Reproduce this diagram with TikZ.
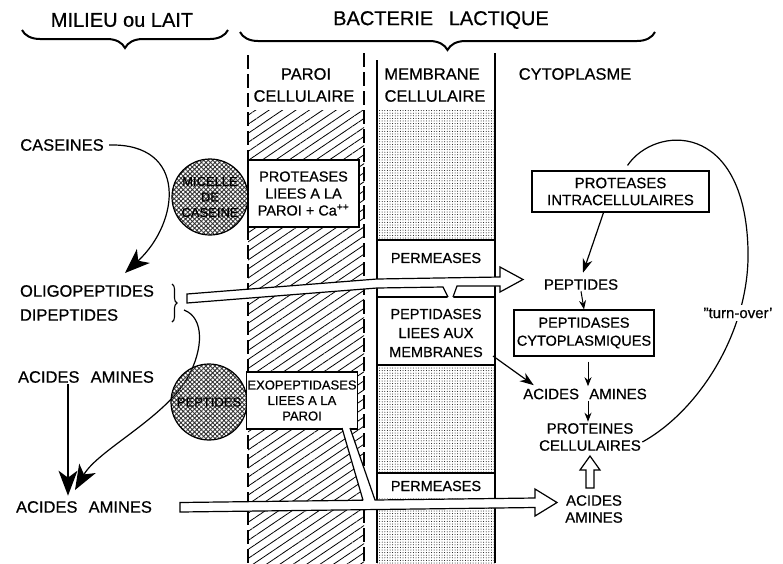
\documentclass[tikz,border=0pt]{standalone}
\usepackage{fontspec}
\setmainfont{Liberation Sans}[UprightFeatures={FakeBold=0.6}]
\usetikzlibrary{patterns,patterns.meta,decorations.pathreplacing,arrows.meta,calc}
\begin{document}
\begin{tikzpicture}[x=1pt,y=-1pt,line width=1pt,
 headtxt/.style={font=\fontsize{20}{22}\selectfont,inner sep=0pt},
 lab/.style={font=\fontsize{16.5}{19}\selectfont,inner sep=1pt},
 coltxt/.style={font=\fontsize{16.5}{19}\selectfont,inner sep=0pt},
 boxtxt/.style={font=\fontsize{14.5}{17}\selectfont,align=center,inner sep=1pt},
 rlab/.style={font=\fontsize{15}{17}\selectfont,align=center,inner sep=1pt},
 circtxt/.style={font=\fontsize{13}{15.5}\selectfont,align=center,inner sep=0pt},
 boxframe/.style={draw,fill=white,line width=1.2pt},
 bigtip/.style={-{Stealth[length=25pt,width=19pt,inset=7pt]},line width=1.2pt},
 smtip/.style={-{Stealth[length=9pt,width=7pt]},line width=1pt},
 medtip/.style={-{Stealth[length=14pt,width=10pt]},line width=1.2pt},
 wallline/.style={dash pattern=on 14pt off 5pt,line width=1.2pt},
 memline/.style={line width=1.4pt},
 blob/.style={circle,draw,line width=1.2pt,minimum size=76pt,inner sep=0pt,
   pattern={Hatch[angle=45,distance=3.2pt,line width=0.9pt]},pattern color=black!80},
 bracestyle/.style={decorate,decoration={brace,amplitude=18pt},line width=2pt},
]
\useasboundingbox (0,0) rectangle (783,563);

% wall hatching and membrane stipple
\fill[pattern={Lines[angle=34,distance=7.5pt,line width=0.8pt]}] (248,110) rectangle (364,563);
\fill[pattern={Dots[distance=2.6pt,radius=0.5pt]}] (377,110) rectangle (495,563);

% white zones in membrane
\fill[white] (377,240) rectangle (495,365);
\fill[white] (377,473) rectangle (495,498);
\draw[memline] (377,240) -- (495,240);
\draw[memline] (377,297) -- (495,297);
\draw[memline] (377,365) -- (495,365);
\draw[memline] (377,473) -- (495,473);

% column borders
\draw[wallline] (248,55) -- (248,563);
\draw[wallline] (364,53) -- (364,563);
\draw[memline] (377,60) -- (377,563);
\draw[memline] (495,53) -- (495,563);

% top braces and headings
\draw[bracestyle] (228,30) -- (22,30);
\draw[bracestyle] (655,32) -- (240,32);
\node[headtxt] (milieu) at (122,20) {MILIEU ou LAIT};
\node[headtxt] (bact) at (441,20) {BACTERIE\hspace{0.5em} LACTIQUE};

% column headers
\node[coltxt] (paroi) at (306,74) {PAROI};
\node[coltxt] (paroicell) at (304,96) {CELLULAIRE};
\node[coltxt] (memb) at (432,74) {MEMBRANE};
\node[coltxt] (membcell) at (435,96) {CELLULAIRE};
\node[coltxt] (cyto) at (575,74) {CYTOPLASME};

% left labels
\node[lab] (caseines) at (62,145) {CASEINES};
\node[lab] (oligo) at (87,291) {OLIGOPEPTIDES};
\node[lab] (dipep) at (69,315) {DIPEPTIDES};
\node[lab] (aaup) at (86,377) {ACIDES\hspace{0.4em} AMINES};
\node[lab] (aalow) at (84,507) {ACIDES\hspace{0.4em} AMINES};
\coordinate (casend) at (125,273);
\coordinate (dipstart) at (184,310);
\coordinate (dipend) at (75,490);
\draw[decorate,decoration={brace,amplitude=5pt},line width=1.1pt] (172,284) -- (172,322);

% left arrows
\draw[bigtip] ([xshift=4pt]caseines.east) .. controls (188,143) and (180,222) .. (casend);
\draw[bigtip] (dipstart) .. controls (205,318) and (203,350) .. (188,377)
   .. controls (165,418) and (98,450) .. (dipend);
\draw[bigtip] ([xshift=-18pt]aaup.south) -- ([xshift=-16pt,yshift=4pt]aalow.north);

% circles
\node[blob,circtxt] (micelle) at (210,197) {MICELLE\\DE\\CASEINE};
\node[blob,circtxt] (pepcirc) at (209,402) {PEPTIDES};

% wall boxes
\node[boxframe,boxtxt,minimum width=111pt,minimum height=67pt] (protwall) at (303.5,193.5)
  {PROTEASES\\LIEES A LA\\PAROI + Ca\textsuperscript{++}};
\node[boxframe,boxtxt,font=\fontsize{13}{15.5}\selectfont,minimum width=110pt,minimum height=57pt] (exo) at (302,400.5)
  {EXOPEPTIDASES\\LIEES A LA\\PAROI};

% membrane labels
\node[boxtxt] (perm1) at (436,258) {PERMEASES};
\node[boxtxt,font=\fontsize{14.5}{19}\selectfont] (pepmem) at (436,333) {PEPTIDASES\\LIEES AUX\\MEMBRANES};
\node[boxtxt] (perm2) at (436,486) {PERMEASES};

% upper transport arrow (oligopeptides)
\fill[white] (187,294) -- (377,279) -- (500,277) -- (500,267) -- (523,279.5) -- (500,292) -- (500,286)
  -- (457,286) -- (453,298.5) -- (448,298.5) -- (443,287) -- (377,288) -- (187,303) -- cycle;
\draw[line width=1.2pt,line join=miter] (448,297) -- (443,287) -- (377,288) -- (187,303) -- (187,294)
  -- (377,279) -- (500,277) -- (500,267) -- (523,279.5) -- (500,292) -- (500,286) -- (457,286) -- (453,297);

% lower transport arrow (amino acids)
\fill[white] (342,427) -- (350,427) -- (375,500) -- (535,498) -- (535,489) -- (557,502.5) -- (535,516)
  -- (535,507.5) -- (180,512) -- (180,502.5) -- (363,500.2) -- cycle;
\draw[line width=1.2pt,line join=miter] (363,500.2) -- (342,428);
\draw[line width=1.2pt,line join=miter] (350,428) -- (375,500) -- (535,498) -- (535,489) -- (557,502.5)
  -- (535,516) -- (535,507.5) -- (180,512) -- (180,502.5) -- (363,500.2);

% cytoplasm
\node[boxframe,rlab,minimum width=177pt,minimum height=41pt] (protintra) at (620.5,191.5)
  {PROTEASES\\INTRACELLULAIRES};
\node[rlab] (peptides) at (581,284.5) {PEPTIDES};
\node[boxframe,rlab,font=\fontsize{14.5}{18}\selectfont,minimum width=140pt,minimum height=46pt] (pepcyto) at (584,333)
  {PEPTIDASES\\CYTOPLASMIQUES};
\node[rlab] (aa1) at (585,394) {ACIDES\hspace{0.4em} AMINES};
\node[rlab] (prot) at (590,437) {PROTEINES\\CELLULAIRES};
\node[rlab] (aa2) at (594,509) {ACIDES\\AMINES};
\coordinate (pmcorner) at (493,356);

\draw[medtip] ([xshift=-17pt]protintra.south) -- ([xshift=2pt,yshift=5pt]peptides.north);
\draw[smtip] (peptides.south) -- (pepcyto.north);
\draw[smtip] ([xshift=4pt,yshift=-5pt]pepcyto.south) -- ([xshift=3pt,yshift=1pt]aa1.north);
\draw[smtip] ([xshift=3pt]aa1.south) -- ([xshift=-2pt]prot.north);
\draw[medtip] (pmcorner) -- ([xshift=12pt,yshift=2pt]aa1.north west);
\draw[line width=1.2pt,fill=white,line join=miter] (586,488) -- (586,470) -- (580,470) -- (590,456)
  -- (600,470) -- (594,470) -- (594,488) -- cycle;

% turn-over loop
\draw[line width=1.2pt] ([yshift=-5pt]prot.east) .. controls (700,410) and (750,330) .. (748,250)
  .. controls (745,120) and (655,125) .. ([xshift=7pt,yshift=5pt]protintra.north);
\node[rlab,fill=white,inner sep=3pt] (turn) at (738,313) {\symbol{34}turn-over\symbol{39}};
\end{tikzpicture}
\end{document}
